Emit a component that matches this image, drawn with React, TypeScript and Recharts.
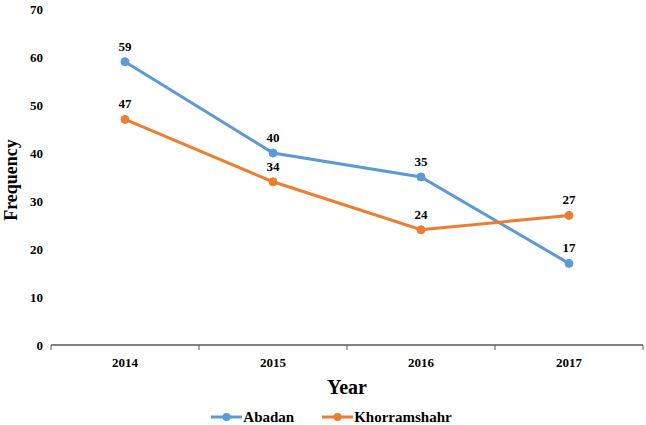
import React from 'react';
import { LineChart, Line, XAxis, YAxis, Legend, LabelList } from 'recharts';

const years = ['2014', '2015', '2016', '2017'];
const abadan = [59, 40, 35, 17];
const khorramshahr = [47, 34, 24, 27];
const yTicks = [0, 10, 20, 30, 40, 50, 60, 70];

const BLUE = '#5B9BD5';
const ORANGE = '#ED7D31';
const FONT = '"Liberation Serif", "Times New Roman", serif';

const data = years.map((y, i) => ({ year: y, Abadan: abadan[i], Khorramshahr: khorramshahr[i] }));

const XTick = (props: any) => {
  const { x, y, payload, index, visibleTicksCount } = props;
  const off = payload && payload.offset ? payload.offset : 74;
  const axisY = y - 8;
  const last = index === (visibleTicksCount ?? years.length) - 1;
  return (
    <g>
      <line x1={x - off} x2={x - off} y1={axisY} y2={axisY + 5} stroke="#595959" strokeWidth={1} />
      {last && <line x1={x + off} x2={x + off} y1={axisY} y2={axisY + 5} stroke="#595959" strokeWidth={1} />}
      <text x={x} y={y} dy={14} textAnchor="middle" fontFamily={FONT} fontWeight="bold" fontSize={13} fill="#000">
        {payload.value}
      </text>
    </g>
  );
};

const LegendContent = () => {
  const items = [
    { name: 'Abadan', color: BLUE },
    { name: 'Khorramshahr', color: ORANGE },
  ];
  return (
    <div style={{ display: 'flex', justifyContent: 'center', alignItems: 'center', marginLeft: 20 }}>
      {items.map((it, i) => (
        <div key={it.name} style={{ display: 'flex', alignItems: 'center', marginRight: i === 0 ? 28 : 0 }}>
          <svg width={31} height={10} style={{ marginRight: 1 }}>
            <line x1={0} x2={31} y1={5} y2={5} stroke={it.color} strokeWidth={3} />
            <circle cx={15.5} cy={5} r={4} fill={it.color} />
          </svg>
          <span style={{ fontFamily: FONT, fontWeight: 'bold', fontSize: 15, color: '#000', lineHeight: '16px' }}>{it.name}</span>
        </div>
      ))}
    </div>
  );
};

export default function App() {
  return (
    <div style={{ position: 'absolute', left: 0, top: 0, width: 646, height: 425, background: '#fff' }}>
      <LineChart width={646} height={425} data={data} margin={{ top: 9, right: 3, left: 0, bottom: 0 }}>
        <XAxis
          dataKey="year"
          scale="band"
          tick={<XTick />}
          tickLine={false}
          axisLine={{ stroke: '#595959', strokeWidth: 1.5 }}
          height={64}
          interval={0}
          label={{ value: 'Year', position: 'insideBottom', offset: 15, fontFamily: FONT, fontWeight: 'bold', fontSize: 20, fill: '#000' }}
        />
        <YAxis
          domain={[0, 70]}
          ticks={yTicks}
          width={51}
          axisLine={false}
          tickLine={false}
          tick={{ fontFamily: FONT, fontWeight: 'bold', fontSize: 13, fill: '#000' }}
          label={{ value: 'Frequency', angle: -90, position: 'insideLeft', offset: 11, dy: 3, fontFamily: FONT, fontWeight: 'bold', fontSize: 18, fill: '#000', style: { textAnchor: 'middle' } }}
        />
        <Legend verticalAlign="bottom" height={16} content={<LegendContent />} />
        <Line type="linear" dataKey="Abadan" stroke={BLUE} strokeWidth={3} dot={{ r: 4, fill: BLUE, stroke: BLUE, strokeWidth: 1 }} isAnimationActive={false}>
          <LabelList dataKey="Abadan" position="top" offset={11} style={{ fontFamily: FONT, fontWeight: 'bold', fontSize: 13, fill: '#000' }} />
        </Line>
        <Line type="linear" dataKey="Khorramshahr" stroke={ORANGE} strokeWidth={3} dot={{ r: 4, fill: ORANGE, stroke: ORANGE, strokeWidth: 1 }} isAnimationActive={false}>
          <LabelList dataKey="Khorramshahr" position="top" offset={11} style={{ fontFamily: FONT, fontWeight: 'bold', fontSize: 13, fill: '#000' }} />
        </Line>
      </LineChart>
    </div>
  );
}
